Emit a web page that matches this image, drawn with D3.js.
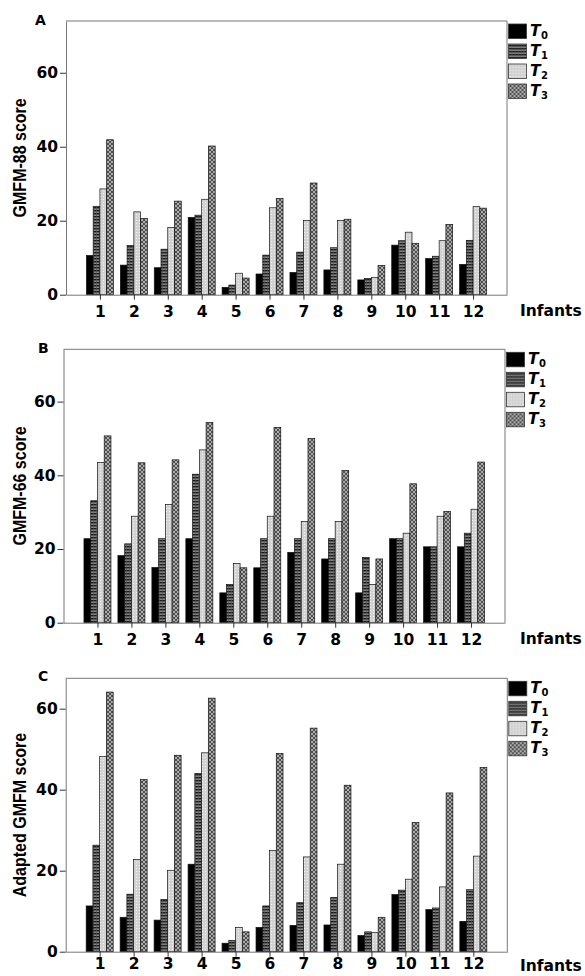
<!DOCTYPE html>
<html><head><meta charset="utf-8">
<script src="https://cdn.jsdelivr.net/npm/d3@7"></script>
<style>body{margin:0;background:#fff} svg{display:block}</style>
</head><body>
<svg id="chart" width="585" height="976"></svg>
<script>
// ---------- DATA ----------
const categories = [1,2,3,4,5,6,7,8,9,10,11,12];
const seriesNames = ["T0","T1","T2","T3"];
const yTicks = [0,20,40,60];
const panelLabels = ["A","B","C"];
const yTitles = ["GMFM-88 score","GMFM-66 score","Adapted GMFM score"];
const xTitle = "Infants";

// Panel A: GMFM-88
const gmfm88_T0 = [10.6, 8.0, 7.3, 20.9, 2.0, 5.6, 6.0, 6.7, 4.0, 13.4, 9.8, 8.2];
const gmfm88_T1 = [23.9, 13.3, 12.3, 21.5, 2.6, 10.7, 11.5, 12.7, 4.4, 14.6, 10.4, 14.7];
const gmfm88_T2 = [28.6, 22.4, 18.2, 25.8, 5.8, 23.5, 20.1, 20.1, 4.7, 16.9, 14.6, 23.8];
const gmfm88_T3 = [41.9, 20.6, 25.3, 40.2, 4.5, 26.0, 30.2, 20.4, 7.9, 13.9, 19.0, 23.4];

// Panel B: GMFM-66
const gmfm66_T0 = [22.8, 18.2, 15.0, 22.8, 8.1, 14.9, 19.1, 17.3, 8.1, 22.8, 20.6, 20.6];
const gmfm66_T1 = [33.1, 21.4, 22.8, 40.3, 10.4, 22.8, 22.8, 22.8, 17.7, 22.8, 20.6, 24.3];
const gmfm66_T2 = [43.5, 28.9, 32.1, 46.9, 16.1, 28.9, 27.5, 27.5, 10.4, 24.3, 28.9, 30.8];
const gmfm66_T3 = [50.7, 43.4, 44.2, 54.3, 14.9, 53.0, 50.0, 41.3, 17.3, 37.7, 30.2, 43.6];

// Panel C: Adapted GMFM
const adapted_T0 = [11.3, 8.5, 7.8, 21.6, 2.1, 6.0, 6.5, 6.6, 4.0, 14.1, 10.4, 7.5];
const adapted_T1 = [26.3, 14.2, 12.9, 44.0, 2.8, 11.3, 12.1, 13.4, 4.9, 15.2, 10.8, 15.3];
const adapted_T2 = [48.2, 22.8, 20.1, 49.1, 6.0, 25.0, 23.4, 21.6, 4.7, 17.9, 16.0, 23.6];
const adapted_T3 = [64.1, 42.5, 48.5, 62.6, 4.9, 48.9, 55.2, 41.1, 8.5, 31.9, 39.2, 45.5];

const panelSeries = [
  [gmfm88_T0, gmfm88_T1, gmfm88_T2, gmfm88_T3],
  [gmfm66_T0, gmfm66_T1, gmfm66_T2, gmfm66_T3],
  [adapted_T0, adapted_T1, adapted_T2, adapted_T3]
];
const panelYMax = [74, 74.2, 67.5];

// ---------- LAYOUT ----------
const layout = [
  {left:66,   right:507,   top:21,    bottom:294.7, lx:35, ly:25,  tp:6, xt:21},
  {left:63.5, right:505,   top:349.3, bottom:622.7, lx:38, ly:353, tp:6, xt:21},
  {left:65.7, right:507.3, top:678.3, bottom:951.7, lx:38, ly:681, tp:1.5, xt:19}
];
const hFont = "'DejaVu Sans', sans-serif";
const vFont = "'Liberation Sans', Arial, sans-serif";
const axisColor = "#777";
const tickColor = "#333";

const svg = d3.select("#chart");
const defs = svg.append("defs");

// patterns
const p1 = defs.append("pattern").attr("id","pT1").attr("patternUnits","userSpaceOnUse")
  .attr("width",3).attr("height",3);
p1.append("rect").attr("width",3).attr("height",3).attr("fill","#858585");
p1.append("rect").attr("width",3).attr("height",1.4).attr("fill","#1a1a1a");
p1.append("rect").attr("x",0).attr("width",0.6).attr("height",3).attr("fill","#555");

const p2 = defs.append("pattern").attr("id","pT2").attr("patternUnits","userSpaceOnUse")
  .attr("width",3).attr("height",3);
p2.append("rect").attr("width",3).attr("height",3).attr("fill","#d2d2d2");
p2.append("rect").attr("x",1).attr("y",1).attr("width",1).attr("height",1).attr("fill","#f2f2f2");

const p3 = defs.append("pattern").attr("id","pT3").attr("patternUnits","userSpaceOnUse")
  .attr("width",4).attr("height",4);
p3.append("rect").attr("width",4).attr("height",4).attr("fill","#acacac");
p3.append("path").attr("d","M0,0L4,4M4,0L0,4").attr("stroke","#444").attr("stroke-width",0.9).attr("fill","none");

const fills = ["#000", "url(#pT1)", "url(#pT2)", "url(#pT3)"];

layout.forEach((L, pi) => {
  const g = svg.append("g");
  const x = d3.scaleLinear().domain([0,13]).range([L.left, L.right]);
  const y = d3.scaleLinear().domain([0, panelYMax[pi]]).range([L.bottom, L.top]);
  const inner = d3.scaleBand().domain(seriesNames).range([-13.5, 13.5]);

  // box top & right
  g.append("line").attr("x1",L.left).attr("x2",L.right).attr("y1",L.top).attr("y2",L.top)
    .attr("stroke",axisColor).attr("stroke-width",1);
  g.append("line").attr("x1",L.right).attr("x2",L.right).attr("y1",L.top).attr("y2",L.bottom)
    .attr("stroke",axisColor).attr("stroke-width",1);

  // bars
  seriesNames.forEach((s, si) => {
    const vals = panelSeries[pi][si];
    g.selectAll(null).data(categories).enter().append("rect")
      .attr("x", (c) => x(c) + inner(s))
      .attr("width", inner.bandwidth())
      .attr("y", (c, i) => y(vals[i]))
      .attr("height", (c, i) => y(0) - y(vals[i]))
      .attr("fill", fills[si])
      .attr("stroke", "#111").attr("stroke-width", 0.7);
  });

  // axes
  const ya = g.append("g").attr("transform",`translate(${L.left},0)`)
    .call(d3.axisLeft(y).tickValues(yTicks).tickFormat(d3.format("d")).tickSizeInner(6).tickSizeOuter(0).tickPadding(2));
  const xa = g.append("g").attr("transform",`translate(0,${L.bottom})`)
    .call(d3.axisBottom(x).tickValues(categories).tickFormat(d3.format("d")).tickSizeInner(5).tickSizeOuter(0).tickPadding(L.tp));
  [ya, xa].forEach(a => {
    a.select(".domain").attr("stroke", axisColor);
    a.selectAll(".tick line").attr("stroke", tickColor);
    a.selectAll(".tick text").attr("font-family", hFont).attr("font-weight","bold")
      .attr("font-size", 15.5).attr("fill","#000");
  });

  // x title
  g.append("text").attr("x", 520).attr("y", L.bottom + L.xt)
    .attr("font-family", hFont).attr("font-weight","bold").attr("font-size",15.5)
    .text(xTitle);

  // y title
  g.append("text").attr("transform", `translate(25.5,${(L.top+L.bottom)/2}) scale(1.15,1) rotate(-90)`)
    .attr("text-anchor","middle")
    .attr("font-family", vFont).attr("font-weight","bold").attr("font-size",16)
    .text(yTitles[pi]);

  // panel letter
  g.append("text").attr("x", L.lx).attr("y", L.ly)
    .attr("font-family", hFont).attr("font-weight","bold").attr("font-size",14)
    .text(panelLabels[pi]);

  // legend
  const lg = g.append("g").attr("transform", `translate(${L.right+1.5},${L.top+3})`);
  seriesNames.forEach((s, si) => {
    lg.append("rect").attr("x",0).attr("y", si*20).attr("width",18).attr("height",14.5)
      .attr("fill", fills[si]).attr("stroke","#333").attr("stroke-width",0.8);
    const t = lg.append("text").attr("x", 21.5).attr("y", si*20 + 11.5)
      .attr("font-family", hFont).attr("font-weight","bold").attr("font-size",15.5);
    t.append("tspan").attr("font-style","italic").text(s.charAt(0));
    t.append("tspan").attr("font-size",10).attr("dy",3.5).attr("dx",0.5).text(s.slice(1));
  });
});
</script>
</body></html>
